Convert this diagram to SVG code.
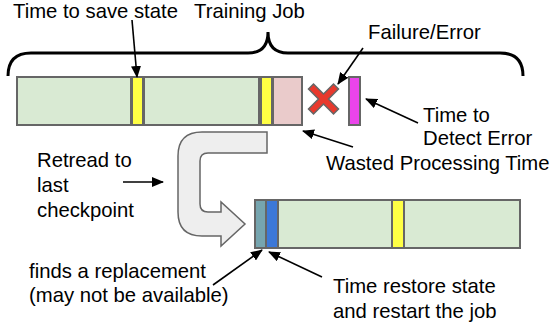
<svg xmlns="http://www.w3.org/2000/svg" width="556" height="331" viewBox="0 0 556 331">
  <style>
    .lbl { font-family: "Liberation Sans", Arial, sans-serif; font-size: 20.3px; fill: #000; }
    .seg { stroke: #666666; stroke-width: 2; }
    .work { fill: #d9ead3; }
    .save { fill: #ffff44; }
    .waste { fill: #eacbcb; }
    .detect { fill: #ea44ea; }
    .swap { fill: #76a5af; }
    .restore { fill: #3c78d8; }
    .ptr { stroke: #000; stroke-width: 1.6; fill: none; marker-end: url(#head); }
  </style>
  <defs>
    <marker id="head" viewBox="0 0 12 10" refX="11" refY="5" markerWidth="12" markerHeight="10" markerUnits="userSpaceOnUse" orient="auto">
      <path d="M0,0 L12,5 L0,10 Z" fill="#000"/>
    </marker>
  </defs>

  <rect width="556" height="331" fill="#fff"/>

  <!-- original run of the job -->
  <g id="run-original">
    <rect class="seg work" x="17" y="77" width="114" height="48"/>
    <rect class="seg save" x="132" y="77" width="11" height="48"/>
    <rect class="seg work" x="144" y="77" width="115" height="48"/>
    <rect class="seg save" x="261" y="77" width="11" height="48"/>
    <rect class="seg waste" x="273" y="77" width="29" height="48"/>
    <rect class="seg detect" x="349" y="77" width="11" height="48"/>
  </g>

  <!-- failure mark -->
  <g id="failure-mark">
    <polygon transform="translate(323.5,99)" fill="#e8392d" stroke="#666666" stroke-width="1.5"
      points="-15,-10 -10,-15 0,-5 10,-15 15,-10 5,0 15,10 10,15 0,5 -10,15 -15,10 -5,0"/>
  </g>

  <!-- brace over the training job -->
  <g id="job-brace">
    <path d="M8,76 Q8,53 31,53 L248,53 Q268,53 268,32 Q268,53 288,53 L500,53 Q523,53 523,76" fill="none" stroke="#000" stroke-width="3"/>
    <text class="lbl" x="194" y="17.5">Training Job</text>
  </g>

  <!-- U-turn back to the last checkpoint -->
  <g id="retreat-arrow">
    <path d="M267,132 L202,132 Q178,132 178,156 L178,212 Q178,236 202,236 L221,236 L221,246 L245,224 L221,202 L221,212 L208,212 Q200,212 200,204 L200,161 Q200,153 208,153 L267,153 Z"
      fill="#eeeeee" stroke="#666666" stroke-width="1.5"/>
  </g>

  <!-- restarted run -->
  <g id="run-restart">
    <rect class="seg swap" x="255" y="200" width="11" height="48"/>
    <rect class="seg restore" x="266" y="200" width="12" height="48"/>
    <rect class="seg work" x="278" y="200" width="114" height="48"/>
    <rect class="seg save" x="392" y="200" width="12" height="48"/>
    <rect class="seg work" x="404" y="200" width="116" height="48"/>
  </g>

  <!-- labels -->
  <g id="label-save">
    <text class="lbl" x="13" y="17.5">Time to save state</text>
  </g>
  <g id="label-failure">
    <text class="lbl" x="368" y="39">Failure/Error</text>
  </g>
  <g id="label-detect">
    <text class="lbl" x="423" y="122">Time to</text>
    <text class="lbl" x="423" y="145">Detect Error</text>
  </g>
  <g id="label-waste">
    <text class="lbl" x="326" y="170">Wasted Processing Time</text>
  </g>
  <g id="label-retread">
    <text class="lbl" x="37" y="167">Retread to</text>
    <text class="lbl" x="37" y="192">last</text>
    <text class="lbl" x="37" y="217">checkpoint</text>
  </g>
  <g id="label-replace">
    <text class="lbl" x="29" y="278">finds a replacement</text>
    <text class="lbl" x="29" y="302">(may not be available)</text>
  </g>
  <g id="label-restore">
    <text class="lbl" x="333" y="293">Time restore state</text>
    <text class="lbl" x="333" y="318">and restart the job</text>
  </g>

  <!-- pointers -->
  <g id="connectors">
    <line class="ptr" x1="132" y1="20" x2="137" y2="77"/>
    <line class="ptr" x1="363" y1="48" x2="338" y2="84"/>
    <line class="ptr" x1="418" y1="123" x2="366" y2="99"/>
    <line class="ptr" x1="353" y1="147" x2="303" y2="131"/>
    <line class="ptr" x1="123" y1="182" x2="163" y2="182"/>
    <line class="ptr" x1="213" y1="285" x2="262" y2="250"/>
    <line class="ptr" x1="322" y1="277" x2="269" y2="252"/>
  </g>
</svg>
